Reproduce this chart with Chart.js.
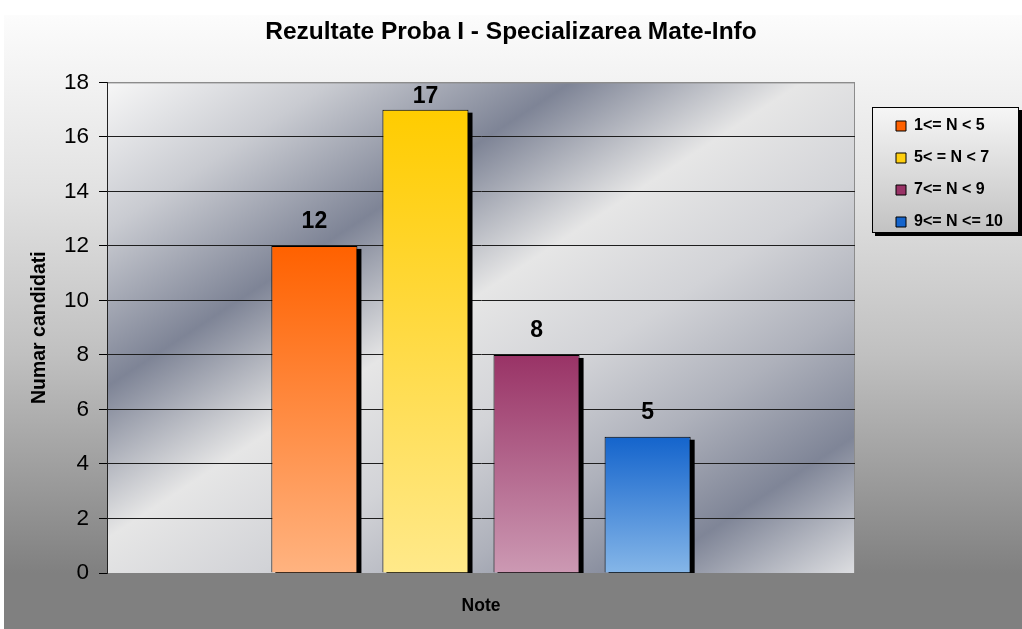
<!DOCTYPE html>
<html>
<head>
<meta charset="utf-8">
<script src="https://cdn.jsdelivr.net/npm/chart.js@4.4.1/dist/chart.umd.min.js"></script>
<style>
  html, body { margin: 0; padding: 0; background: #fff; }
  #wrap { width: 1022px; height: 629px; }
</style>
</head>
<body>
<div id="wrap"><canvas id="chart" width="1022" height="629"></canvas></div>
<script>
const categories = [""];
const seriesNames = ["1<= N < 5", "5< = N < 7", "7<= N < 9", "9<= N <= 10"];
const counts = [12, 17, 8, 5];
const yMin = 0;
const yMax = 18;
const yStep = 2;

const barTop = ["#ff6100", "#ffcc00", "#993366", "#1464cc"];
const barBottom = ["#ffb380", "#ffe98a", "#cc99b3", "#85b6e8"];
const barMid = ["#ff8a45", "#ffdd55", "#b36b8f", "#4d8ddb"];
const FONT = 'Arial, "Liberation Sans", sans-serif';

// vertical gradient per bar, from its top down to zero
const barFill = (i) => (c) => {
  const chart = c.chart;
  if (c.type !== "data" || !chart.chartArea || !c.parsed) return barMid[i];
  const y = chart.scales.y;
  const g = chart.ctx.createLinearGradient(0, y.getPixelForValue(c.parsed.y), 0, y.getPixelForValue(0));
  g.addColorStop(0, barTop[i]);
  g.addColorStop(1, barBottom[i]);
  return g;
};

const backgrounds = {
  id: "backgrounds",
  beforeDraw(chart) {
    const { ctx, chartArea: a, width, height } = chart;
    ctx.save();
    ctx.fillStyle = "#fff";
    ctx.fillRect(0, 0, width, height);

    // outer area: white at top to grey at bottom
    const g = ctx.createLinearGradient(0, 15, 0, 573);
    g.addColorStop(0, "#fcfcfc");
    g.addColorStop(0.315, "#e2e2e2");
    g.addColorStop(0.61, "#c0c0c0");
    g.addColorStop(0.805, "#a0a0a0");
    g.addColorStop(1, "#808080");
    ctx.fillStyle = g;
    ctx.fillRect(4, 15, width - 4, height - 15);

    // plot area: diagonal metal bands
    ctx.save();
    ctx.translate(a.left, a.top);
    ctx.scale(a.width, a.height);
    const p = ctx.createLinearGradient(0, 0, 1, 1);
    p.addColorStop(0, "#f7f7f7");
    p.addColorStop(0.15, "#c9cbd1");
    p.addColorStop(0.31, "#7e8496");
    p.addColorStop(0.465, "#e6e6e6");
    p.addColorStop(0.6, "#d2d3d7");
    p.addColorStop(0.73, "#aeb1bb");
    p.addColorStop(0.86, "#7f8597");
    p.addColorStop(1, "#dddee1");
    ctx.fillStyle = p;
    ctx.fillRect(0, 0, 1, 1);
    ctx.restore();

    ctx.strokeStyle = "#8c8c8c";
    ctx.lineWidth = 1;
    ctx.beginPath();
    ctx.moveTo(a.left, a.top + 0.5);
    ctx.lineTo(a.right - 0.5, a.top + 0.5);
    ctx.lineTo(a.right - 0.5, a.bottom);
    ctx.stroke();

    // legend frame with drop shadow
    const lg = chart.legend;
    const fx = lg.left - 8, fy = lg.top + 5, fw = 147, fh = 126;
    ctx.fillStyle = "#000";
    ctx.fillRect(fx + 3, fy + 3, fw, fh);
    const lgGrad = ctx.createLinearGradient(0, fy, 0, fy + fh);
    lgGrad.addColorStop(0, "#f6f6f6");
    lgGrad.addColorStop(1, "#c2c2c2");
    ctx.fillStyle = lgGrad;
    ctx.fillRect(fx, fy, fw, fh);
    ctx.strokeStyle = "#000";
    ctx.strokeRect(fx + 0.5, fy + 0.5, fw - 1, fh - 1);
    ctx.restore();
  },
};

// move the legend into its framed box, centre the title on the whole canvas
const placeBoxes = {
  id: "placeBoxes",
  afterLayout(chart) {
    const lg = chart.legend;
    const dy = 102 - lg.top;
    lg.left = 880;
    lg.right = 1020;
    lg.top += dy;
    lg.bottom += dy;
    const t = chart.titleBlock;
    t.left = 0;
    t.right = chart.width;
  },
};

// bar drop shadows + value labels
const barExtras = {
  id: "barExtras",
  beforeDatasetsDraw(chart) {
    const { ctx, chartArea: a } = chart;
    ctx.save();
    ctx.beginPath();
    ctx.rect(a.left, a.top, a.width, a.height);
    ctx.clip();
    ctx.fillStyle = "#000";
    chart.data.datasets.forEach((ds, i) => {
      chart.getDatasetMeta(i).data.forEach((el) => {
        const { x, y, base, width } = el.getProps(["x", "y", "base", "width"], true);
        ctx.fillRect(x - width / 2 + 4, y + 3, width, base - y);
      });
    });
    ctx.restore();
  },
  afterDatasetsDraw(chart) {
    const ctx = chart.ctx;
    ctx.save();
    ctx.font = "bold 23px " + FONT;
    ctx.fillStyle = "#000";
    ctx.textAlign = "center";
    ctx.textBaseline = "middle";
    chart.data.datasets.forEach((ds, i) => {
      chart.getDatasetMeta(i).data.forEach((el, j) => {
        const y = Math.max(el.y - 24, chart.chartArea.top + 14);
        ctx.fillText(String(ds.data[j]), el.x, y);
      });
    });
    ctx.restore();
  },
};

const datasets = seriesNames.map((name, i) => ({
  label: name,
  data: [counts[i]],
  backgroundColor: barFill(i),
  borderColor: "#000",
  borderWidth: 1,
  categoryPercentage: 0.594,
  barPercentage: 0.775,
}));

new Chart(document.getElementById("chart").getContext("2d"), {
  type: "bar",
  data: { labels: categories, datasets: datasets },
  options: {
    responsive: false,
    animation: false,
    layout: { padding: { left: 0, right: 47, top: 0, bottom: 0 } },
    plugins: {
      title: {
        display: true,
        text: "Rezultate Proba I - Specializarea Mate-Info",
        color: "#000",
        font: { family: FONT, size: 24.5, weight: "bold" },
        padding: { top: 18, bottom: 35 },
      },
      legend: {
        position: "right",
        align: "start",
        maxWidth: 120,
        labels: {
          boxWidth: 10,
          boxHeight: 10,
          padding: 16,
          color: "#000",
          font: { family: FONT, size: 16, weight: "bold" },
        },
      },
      tooltip: { enabled: false },
    },
    scales: {
      x: {
        ticks: { display: false },
        grid: { display: false },
        border: { display: true, color: "#808080", width: 1 },
        title: {
          display: true,
          text: "Note",
          color: "#000",
          font: { family: FONT, size: 17.5, weight: "bold" },
          padding: { top: 0, bottom: 12 },
        },
        afterFit: (s) => { s.height = 56; },
      },
      y: {
        min: yMin,
        max: yMax,
        ticks: {
          stepSize: yStep,
          color: "#000",
          padding: 10,
          font: { family: FONT, size: 22.5 },
        },
        grid: {
          color: (c) => (c.tick && (c.tick.value === yMax || c.tick.value === yMin) ? "#8c8c8c" : "#1e1e1e"),
          tickColor: "#000",
          tickLength: 8,
          lineWidth: 1,
        },
        border: { color: "#222", width: 1 },
        title: {
          display: true,
          text: "Numar candidati",
          color: "#000",
          font: { family: FONT, size: 19.5, weight: "bold" },
          padding: { top: 28, bottom: 0 },
        },
        afterFit: (s) => { s.width = 107; },
      },
    },
  },
  plugins: [backgrounds, placeBoxes, barExtras],
});
</script>
</body>
</html>
